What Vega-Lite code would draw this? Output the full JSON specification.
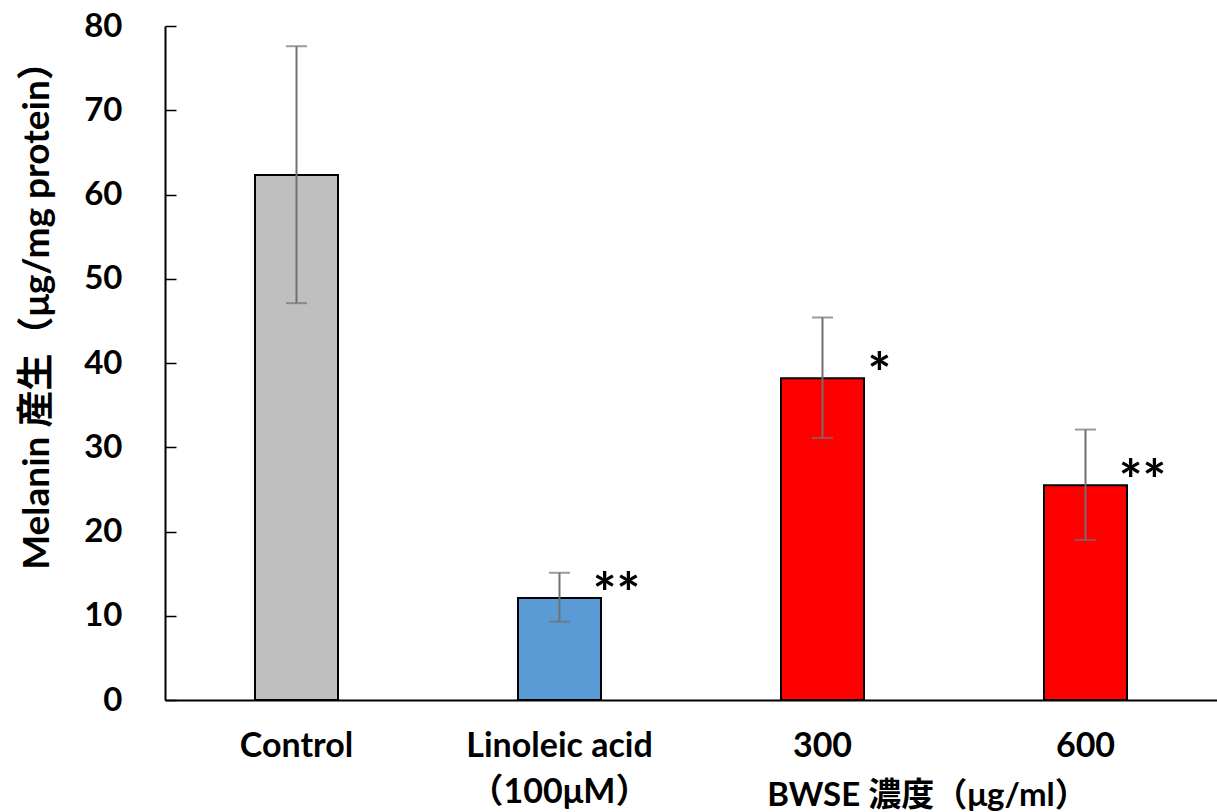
{
  "$schema": "https://vega.github.io/schema/vega-lite/v6.json",
  "width": 1052,
  "height": 674,
  "autosize": {"type": "none"},
  "padding": {"left": 165, "top": 26, "right": 0, "bottom": 112},
  "background": "white",
  "config": {
    "view": {"stroke": null},
    "font": "Lato",
    "axis": {"grid": false, "domainColor": "black", "domainWidth": 2, "tickColor": "black", "tickWidth": 1.5, "labelFont": "Lato, Noto Sans CJK JP", "labelFontWeight": "bold", "labelColor": "black", "titleFont": "Lato, Noto Sans CJK JP", "titleFontWeight": "bold", "titleColor": "black", "labelLimit": 0, "titleLimit": 0}
  },
  "data": {
    "values": [
      {"group": "Control", "mean": 62.3, "low": 47.1, "high": 77.6, "sig": "", "kind": "control"},
      {"group": "Linoleic acid (100μM)", "mean": 12.1, "low": 9.3, "high": 15.1, "sig": "**", "kind": "positive"},
      {"group": "300", "mean": 38.2, "low": 31.1, "high": 45.4, "sig": "*", "kind": "bwse"},
      {"group": "600", "mean": 25.5, "low": 19.0, "high": 32.1, "sig": "**", "kind": "bwse"}
    ]
  },
  "encoding": {
    "x": {
      "field": "group", "type": "nominal", "sort": null,
      "scale": {"paddingInner": 0, "paddingOuter": 0},
      "axis": {
        "title": "BWSE 濃度（μg/ml）",
        "titleFontSize": 33, "titleX": 762, "titleY": 105, "titleBaseline": "alphabetic", "titleAlign": "center", "titleAnchor": null,
        "labelAngle": 0, "labelFontSize": 34, "labelPadding": 29, "labelLineHeight": 46, "labelBaseline": "top", "labelLimit": 0,
        "labelExpr": "datum.value == 'Linoleic acid (100μM)' ? ['Linoleic acid', '（100μM）'] : datum.label",
        "ticks": false
      }
    }
  },
  "layer": [
    {
      "mark": {"type": "bar", "size": 83, "stroke": "black", "strokeWidth": 2},
      "encoding": {
        "y": {
          "field": "mean", "type": "quantitative",
          "scale": {"domain": [0, 80], "nice": false},
          "axis": {
            "title": "Melanin 産生（μg/mg protein）",
            "titleFontSize": 37, "titleX": -128, "titleY": 280, "titleAngle": -90, "titleAlign": "center", "titleBaseline": "middle", "titleAnchor": null,
            "values": [0, 10, 20, 30, 40, 50, 60, 70, 80],
            "labelFontSize": 33, "labelPadding": 54, "tickSize": -11
          }
        },
        "color": {
          "field": "kind", "type": "nominal", "legend": null,
          "scale": {"domain": ["control", "positive", "bwse"], "range": ["#BFBFBF", "#5B9BD5", "#FF0000"]}
        }
      }
    },
    {
      "mark": {"type": "rule", "color": "#707070", "strokeWidth": 2},
      "encoding": {
        "y": {"field": "low", "type": "quantitative"},
        "y2": {"field": "high"}
      }
    },
    {
      "mark": {"type": "tick", "color": "#707070", "thickness": 2, "size": 21},
      "encoding": {"y": {"field": "low", "type": "quantitative"}}
    },
    {
      "mark": {"type": "tick", "color": "#707070", "thickness": 2, "size": 21},
      "encoding": {"y": {"field": "high", "type": "quantitative"}}
    },
    {
      "mark": {"type": "text", "font": "Lato", "fontWeight": "bold", "fontSize": 56, "align": "center", "baseline": "middle", "dx": 57, "dy": -2, "color": "black"},
      "encoding": {
        "y": {"field": "mean", "type": "quantitative"},
        "text": {"field": "sig"}
      }
    }
  ]
}
